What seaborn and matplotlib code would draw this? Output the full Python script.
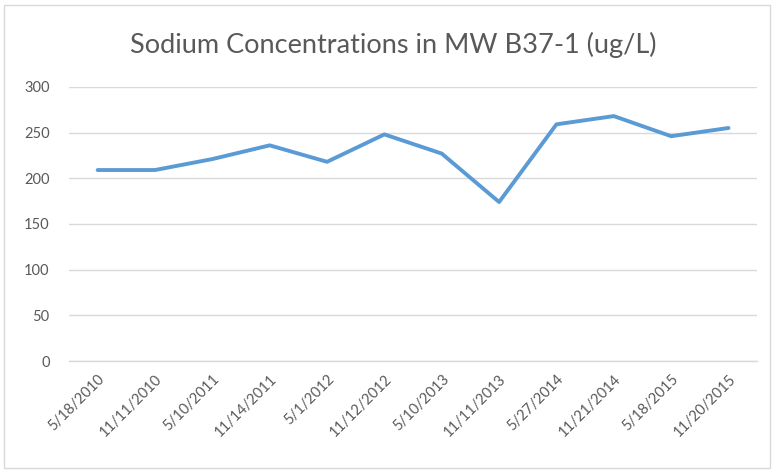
import matplotlib
matplotlib.use("Agg")
import matplotlib.pyplot as plt
import seaborn as sns
import pandas as pd
from matplotlib.patches import Rectangle

# data
sample_dates = ["5/18/2010", "11/11/2010", "5/10/2011", "11/14/2011", "5/1/2012",
                "11/12/2012", "5/10/2013", "11/11/2013", "5/27/2014", "11/21/2014",
                "5/18/2015", "11/20/2015"]
sodium = [209, 209, 221, 236, 218, 248, 227, 174, 259, 268, 246, 255]
y_ticks = [0, 50, 100, 150, 200, 250, 300]

df = pd.DataFrame({"date": sample_dates, "sodium": sodium})

sns.set_theme(style="white")
plt.rcParams["font.family"] = ["Lato", "DejaVu Sans"]

text_col = "#595959"
grid_col = "#d9d9d9"

fig = plt.figure(figsize=(7.75, 4.72), dpi=100)
ax = fig.add_axes([0.089, 0.235, 0.888, 0.581])

sns.lineplot(data=df, x="date", y="sodium", ax=ax, color="#5B9BD5",
             linewidth=2.8, sort=False)

ax.set_xlim(-0.5, len(sample_dates) - 0.5)
ax.set_ylim(0, 300)
ax.set_yticks(y_ticks)
ax.yaxis.grid(True, color=grid_col, linewidth=1)
ax.set_axisbelow(True)

# tick marks at category boundaries, like Excel
ax.set_xticks(range(len(sample_dates)))
ax.set_xticklabels(sample_dates, rotation=45, ha="right", rotation_mode="anchor")
ax.set_xticks([i - 0.5 for i in range(len(sample_dates) + 1)], minor=True)
ax.tick_params(axis="x", which="major", length=0, pad=8, labelsize=10.5, labelcolor=text_col)
ax.tick_params(axis="x", which="minor", length=5, width=1, color=grid_col, direction="out")
ax.tick_params(axis="y", length=0, pad=14, labelsize=10.5, labelcolor=text_col)

for side in ["left", "right", "top"]:
    ax.spines[side].set_visible(False)
ax.spines["bottom"].set_color(grid_col)
ax.spines["bottom"].set_linewidth(1)

ax.set_xlabel("")
ax.set_ylabel("")

fig.text(0.508, 0.905, "Sodium Concentrations in MW B37-1 (ug/L)", ha="center", va="center",
         fontsize=19.5, color=text_col)

# chart frame
fig.patches.append(Rectangle((4 / 775, 4 / 472), 766 / 775, 463 / 472, transform=fig.transFigure,
                             fill=False, edgecolor=grid_col, linewidth=1))

fig.savefig("out.png", dpi=100)
